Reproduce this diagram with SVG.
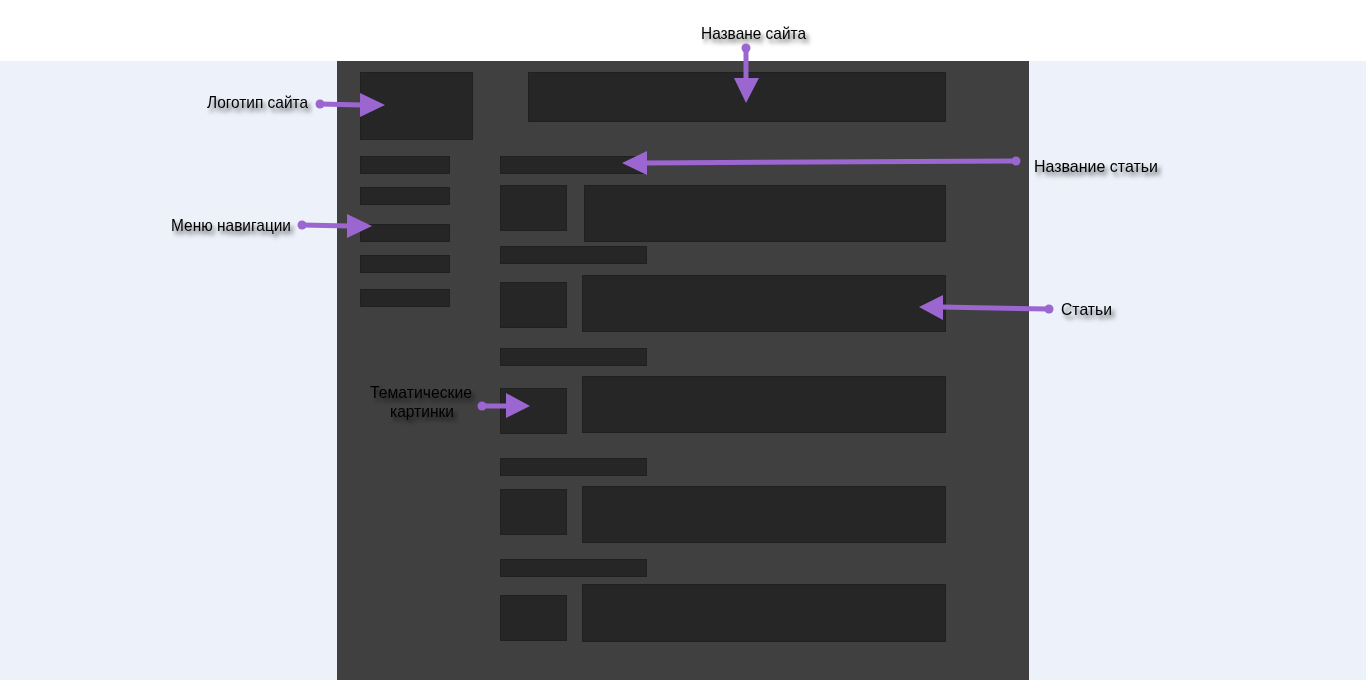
<svg xmlns="http://www.w3.org/2000/svg" width="1366" height="680" viewBox="0 0 1366 680">
<defs>
<filter id="sh" x="-20%" y="-50%" width="140%" height="220%">
<feDropShadow dx="3" dy="4" stdDeviation="2.2" flood-color="#000" flood-opacity="0.6"/>
</filter>
</defs>
<style>
.box{fill:#262626;stroke:#202020;stroke-width:1}
.lbl{font-family:"Liberation Sans",Arial,sans-serif;font-size:17px;fill:#000;filter:url(#sh)}
.ln{stroke:#9b66cf;stroke-width:5;fill:none}
.hd{fill:#9b66cf}
</style>
<rect x="0" y="0" width="1366" height="680" fill="#edf1f9"/>
<rect x="0" y="0" width="1366" height="61" fill="#ffffff"/>
<rect x="337" y="61" width="692" height="619" fill="#404040"/>

<g id="logo"><rect class="box" x="360.5" y="72.5" width="112" height="67"/></g>
<g id="header"><rect class="box" x="528.5" y="72.5" width="417" height="49"/></g>
<g id="nav">
<rect class="box" x="360.5" y="156.5" width="89" height="17"/>
<rect class="box" x="360.5" y="187.5" width="89" height="17"/>
<rect class="box" x="360.5" y="224.5" width="89" height="17"/>
<rect class="box" x="360.5" y="255.5" width="89" height="17"/>
<rect class="box" x="360.5" y="289.5" width="89" height="17"/>
</g>
<g id="article1">
<rect class="box" x="500.5" y="156.5" width="146" height="17"/>
<rect class="box" x="500.5" y="185.5" width="66" height="45"/>
<rect class="box" x="584.5" y="185.5" width="361" height="56"/>
</g>
<g id="article2">
<rect class="box" x="500.5" y="246.5" width="146" height="17"/>
<rect class="box" x="500.5" y="282.5" width="66" height="45"/>
<rect class="box" x="582.5" y="275.5" width="363" height="56"/>
</g>
<g id="article3">
<rect class="box" x="500.5" y="348.5" width="146" height="17"/>
<rect class="box" x="500.5" y="388.5" width="66" height="45"/>
<rect class="box" x="582.5" y="376.5" width="363" height="56"/>
</g>
<g id="article4">
<rect class="box" x="500.5" y="458.5" width="146" height="17"/>
<rect class="box" x="500.5" y="489.5" width="66" height="45"/>
<rect class="box" x="582.5" y="486.5" width="363" height="56"/>
</g>
<g id="article5">
<rect class="box" x="500.5" y="559.5" width="146" height="17"/>
<rect class="box" x="500.5" y="595.5" width="66" height="45"/>
<rect class="box" x="582.5" y="584.5" width="363" height="57"/>
</g>

<g id="labels">
<text class="lbl" x="701" y="39" textLength="105" lengthAdjust="spacingAndGlyphs">Назване сайта</text>
<text class="lbl" x="207" y="108" textLength="101" lengthAdjust="spacingAndGlyphs">Логотип сайта</text>
<text class="lbl" x="1034" y="172" textLength="124" lengthAdjust="spacingAndGlyphs">Название статьи</text>
<text class="lbl" x="171" y="231" textLength="120" lengthAdjust="spacingAndGlyphs">Меню навигации</text>
<text class="lbl" x="1061" y="315" textLength="51" lengthAdjust="spacingAndGlyphs">Статьи</text>
<text class="lbl" x="370" y="398" textLength="102" lengthAdjust="spacingAndGlyphs">Тематические</text>
<text class="lbl" x="390" y="417" textLength="64" lengthAdjust="spacingAndGlyphs">картинки</text>
</g>

<g id="connectors">
<line class="ln" x1="746" y1="48" x2="746" y2="80"/>
<circle class="hd" cx="746" cy="48" r="4.5"/>
<polygon class="hd" points="734,78 759,78 746,103"/>

<line class="ln" x1="320" y1="104" x2="362" y2="105"/>
<circle class="hd" cx="320" cy="104" r="4.5"/>
<polygon class="hd" points="360,93 385,105 360,117"/>

<line class="ln" x1="1016" y1="161" x2="644" y2="163"/>
<circle class="hd" cx="1016" cy="161" r="4.5"/>
<polygon class="hd" points="647,151 622,163 647,175"/>

<line class="ln" x1="302" y1="225" x2="349" y2="226"/>
<circle class="hd" cx="302" cy="225" r="4.5"/>
<polygon class="hd" points="347,214 372,226 347,238"/>

<line class="ln" x1="1049" y1="309" x2="941" y2="307"/>
<circle class="hd" cx="1049" cy="309" r="4.5"/>
<polygon class="hd" points="943,295 919,307 943,320"/>

<line class="ln" x1="482" y1="406" x2="508" y2="406"/>
<circle class="hd" cx="482" cy="406" r="4.5"/>
<polygon class="hd" points="506,393 530,406 506,418"/>
</g>
</svg>
